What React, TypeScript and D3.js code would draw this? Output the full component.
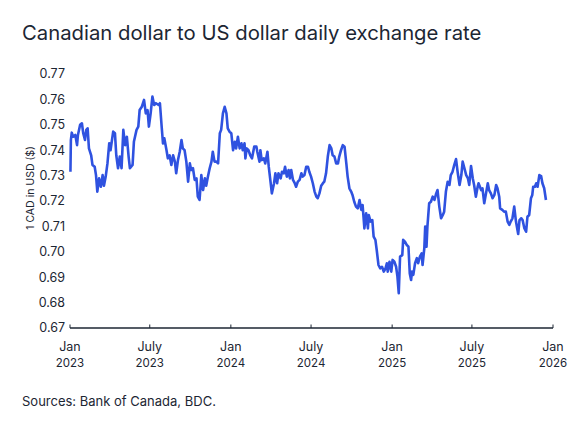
import * as d3 from 'd3';
import React from 'react';

// Bank of Canada daily CAD→USD rate
const dates = [
  '2023-01-02', '2023-01-03', '2023-01-05', '2023-01-08', '2023-01-13', '2023-01-17', '2023-01-19', '2023-01-24',
  '2023-01-28', '2023-01-31', '2023-02-04', '2023-02-07', '2023-02-10', '2023-02-13', '2023-02-18', '2023-02-21',
  '2023-02-26', '2023-03-01', '2023-03-04', '2023-03-08', '2023-03-12', '2023-03-16', '2023-03-19', '2023-03-23',
  '2023-03-27', '2023-03-31', '2023-04-03', '2023-04-09', '2023-04-13', '2023-04-16', '2023-04-20', '2023-04-24',
  '2023-04-28', '2023-05-02', '2023-05-06', '2023-05-10', '2023-05-14', '2023-05-17', '2023-05-23', '2023-05-26',
  '2023-06-01', '2023-06-05', '2023-06-08', '2023-06-13', '2023-06-18', '2023-06-22', '2023-06-26', '2023-06-29',
  '2023-07-03', '2023-07-07', '2023-07-11', '2023-07-15', '2023-07-21', '2023-07-24', '2023-07-28', '2023-07-31',
  '2023-08-03', '2023-08-08', '2023-08-11', '2023-08-15', '2023-08-19', '2023-08-23', '2023-08-27', '2023-08-30',
  '2023-09-03', '2023-09-07', '2023-09-11', '2023-09-14', '2023-09-18', '2023-09-22', '2023-09-26', '2023-09-30',
  '2023-10-03', '2023-10-07', '2023-10-11', '2023-10-15', '2023-10-18', '2023-10-22', '2023-10-26', '2023-10-30',
  '2023-11-03', '2023-11-06', '2023-11-10', '2023-11-14', '2023-11-18', '2023-11-21', '2023-11-25', '2023-11-29',
  '2023-12-03', '2023-12-07', '2023-12-10', '2023-12-14', '2023-12-18', '2023-12-22', '2023-12-25', '2023-12-29',
  '2024-01-02', '2024-01-06', '2024-01-10', '2024-01-13', '2024-01-17', '2024-01-21', '2024-01-25', '2024-01-28',
  '2024-02-01', '2024-02-03', '2024-02-06', '2024-02-10', '2024-02-14', '2024-02-18', '2024-02-23', '2024-02-28',
  '2024-03-01', '2024-03-06', '2024-03-08', '2024-03-11', '2024-03-16', '2024-03-19', '2024-03-24', '2024-03-27',
  '2024-03-31', '2024-04-03', '2024-04-08', '2024-04-11', '2024-04-15', '2024-04-18', '2024-04-23', '2024-04-26',
  '2024-04-30', '2024-05-03', '2024-05-07', '2024-05-11', '2024-05-14', '2024-05-17', '2024-05-21', '2024-05-25',
  '2024-05-28', '2024-06-01', '2024-06-05', '2024-06-09', '2024-06-12', '2024-06-16', '2024-06-20', '2024-06-24',
  '2024-06-27', '2024-07-01', '2024-07-05', '2024-07-09', '2024-07-13', '2024-07-16', '2024-07-20', '2024-07-24',
  '2024-07-28', '2024-07-31', '2024-08-04', '2024-08-08', '2024-08-12', '2024-08-16', '2024-08-19', '2024-08-23',
  '2024-08-27', '2024-08-31', '2024-09-03', '2024-09-07', '2024-09-11', '2024-09-15', '2024-09-19', '2024-09-22',
  '2024-09-26', '2024-09-30', '2024-10-03', '2024-10-07', '2024-10-11', '2024-10-15', '2024-10-19', '2024-10-23',
  '2024-10-26', '2024-10-30', '2024-11-03', '2024-11-07', '2024-11-09', '2024-11-13', '2024-11-17', '2024-11-20',
  '2024-11-24', '2024-11-27', '2024-12-01', '2024-12-05', '2024-12-09', '2024-12-13', '2024-12-17', '2024-12-20',
  '2024-12-22', '2024-12-26', '2024-12-30', '2025-01-02', '2025-01-06', '2025-01-10', '2025-01-13', '2025-01-16',
  '2025-01-19', '2025-01-24', '2025-01-26', '2025-01-30', '2025-02-03', '2025-02-07', '2025-02-10', '2025-02-13',
  '2025-02-15', '2025-02-18', '2025-02-22', '2025-02-26', '2025-03-01', '2025-03-05', '2025-03-09', '2025-03-11',
  '2025-03-15', '2025-03-17', '2025-03-20', '2025-03-22', '2025-03-26', '2025-03-30', '2025-04-03', '2025-04-07',
  '2025-04-11', '2025-04-14', '2025-04-18', '2025-04-22', '2025-04-26', '2025-04-29', '2025-05-03', '2025-05-07',
  '2025-05-11', '2025-05-14', '2025-05-18', '2025-05-22', '2025-05-26', '2025-05-30', '2025-06-03', '2025-06-07',
  '2025-06-10', '2025-06-14', '2025-06-18', '2025-06-22', '2025-06-25', '2025-06-29', '2025-07-03', '2025-07-06',
  '2025-07-10', '2025-07-14', '2025-07-16', '2025-07-22', '2025-07-25', '2025-07-29', '2025-08-02', '2025-08-06',
  '2025-08-09', '2025-08-13', '2025-08-17', '2025-08-21', '2025-08-25', '2025-08-28', '2025-09-01', '2025-09-03',
  '2025-09-08', '2025-09-12', '2025-09-16', '2025-09-20', '2025-09-24', '2025-09-27', '2025-10-01', '2025-10-05',
  '2025-10-09', '2025-10-14', '2025-10-17', '2025-10-21', '2025-10-24', '2025-10-28', '2025-11-01', '2025-11-04',
  '2025-11-08', '2025-11-12', '2025-11-15', '2025-11-17', '2025-11-21', '2025-11-24', '2025-11-27', '2025-12-01',
  '2025-12-05', '2025-12-08', '2025-12-12', '2025-12-16',
];

const rates = [
  0.7315, 0.744, 0.7469, 0.7453, 0.746, 0.742, 0.746, 0.750,
  0.7506, 0.7467, 0.744, 0.748, 0.7486, 0.7407, 0.738, 0.7342,
  0.7335, 0.7302, 0.7237, 0.7289, 0.7256, 0.7302, 0.726, 0.7296,
  0.7348, 0.7427, 0.740, 0.7473, 0.7467, 0.738, 0.7329, 0.7375,
  0.7329, 0.748, 0.742, 0.7453, 0.7375, 0.7329, 0.7342, 0.7433,
  0.748, 0.7493, 0.7558, 0.7571, 0.7598, 0.7545, 0.7558, 0.7493,
  0.7545, 0.7611, 0.7578, 0.7585, 0.7578, 0.7585, 0.7493, 0.7427,
  0.7447, 0.740, 0.7368, 0.738, 0.7342, 0.738, 0.7355, 0.7309,
  0.7361, 0.7394, 0.744, 0.7407, 0.740, 0.7355, 0.7276, 0.7348,
  0.7322, 0.7329, 0.7283, 0.7289, 0.7217, 0.7204, 0.7302, 0.7243,
  0.7289, 0.726, 0.7296, 0.7329, 0.7355, 0.7394, 0.7355, 0.7355,
  0.7348, 0.7467, 0.748, 0.7545, 0.7571, 0.7545, 0.7486, 0.7473,
  0.7467, 0.740, 0.7433, 0.7407, 0.7453, 0.7407, 0.7427, 0.740,
  0.7427, 0.7368, 0.7407, 0.740, 0.738, 0.7368, 0.7414, 0.7414,
  0.7394, 0.7355, 0.740, 0.7361, 0.7368, 0.7348, 0.7394, 0.7335,
  0.7276, 0.723, 0.727, 0.7309, 0.727, 0.7309, 0.7289, 0.7315,
  0.7309, 0.7335, 0.7296, 0.7322, 0.7289, 0.7322, 0.7283, 0.727,
  0.7256, 0.7276, 0.7283, 0.7309, 0.7296, 0.7302, 0.7335, 0.7335,
  0.7315, 0.7296, 0.727, 0.7237, 0.7217, 0.7211, 0.723, 0.726,
  0.727, 0.7276, 0.7309, 0.7375, 0.742, 0.7407, 0.738, 0.7375,
  0.7348, 0.7348, 0.7375, 0.740, 0.742, 0.7414, 0.7348, 0.7296,
  0.725, 0.7237, 0.7224, 0.7197, 0.7178, 0.7171, 0.7204, 0.7165,
  0.7184, 0.7092, 0.7152, 0.7092, 0.7145, 0.7119, 0.7125, 0.706,
  0.7047, 0.7007, 0.6948, 0.6935, 0.6941, 0.6922, 0.6935, 0.6955,
  0.6922, 0.6961, 0.6922, 0.6968, 0.6961, 0.6941, 0.6902, 0.6837,
  0.6981, 0.6987, 0.7047, 0.704, 0.7027, 0.702, 0.6915, 0.6889,
  0.6922, 0.6909, 0.6955, 0.6975, 0.6955, 0.6981, 0.6994, 0.6948,
  0.7014, 0.7099, 0.702, 0.7099, 0.7191, 0.7197, 0.7217, 0.7204,
  0.723, 0.7243, 0.7178, 0.7132, 0.7145, 0.7158, 0.7237, 0.7276,
  0.7263, 0.7302, 0.7315, 0.7342, 0.7365, 0.7309, 0.7263, 0.7302,
  0.7355, 0.7329, 0.7302, 0.7289, 0.7263, 0.7338, 0.7289, 0.7263,
  0.7217, 0.7256, 0.727, 0.7243, 0.725, 0.7191, 0.723, 0.727,
  0.7243, 0.723, 0.7211, 0.7224, 0.7263, 0.725, 0.7217, 0.7171,
  0.7165, 0.7158, 0.7158, 0.7119, 0.7106, 0.7119, 0.7132, 0.7178,
  0.7119, 0.707, 0.7125, 0.7132, 0.7125, 0.7093, 0.7079, 0.7138,
  0.7145, 0.7211, 0.7224, 0.7256, 0.7256, 0.727, 0.7256, 0.7302,
  0.7298, 0.727, 0.725, 0.7204,
];

const yTicks = [0.67, 0.68, 0.69, 0.70, 0.71, 0.72, 0.73, 0.74, 0.75, 0.76, 0.77];
const xTickDates = ['2023-01-01', '2023-07-01', '2024-01-01', '2024-07-01', '2025-01-01', '2025-07-01', '2026-01-01'];
const xTickMonths = ['Jan', 'July', 'Jan', 'July', 'Jan', 'July', 'Jan'];
const xTickYears = ['2023', '2023', '2024', '2024', '2025', '2025', '2026'];

const width = 575;
const height = 431;
const left = 70;
const right = 553;
const top = 74;
const bottom = 328;

const font = 'Inter, "Noto Sans", sans-serif';
const ink = '#1c2633';

export default function App() {
  const parse = d3.timeParse('%Y-%m-%d');
  const points = dates.map((d, i) => ({ date: parse(d) as Date, value: rates[i] }));

  const x = d3
    .scaleTime()
    .domain([parse('2023-01-01') as Date, parse('2026-01-01') as Date])
    .range([left, right]);
  const y = d3.scaleLinear().domain([0.67, 0.77]).range([bottom, top]);

  const line = d3
    .line<{ date: Date; value: number }>()
    .x((d) => x(d.date))
    .y((d) => y(d.value));

  return (
    <div style={{ position: 'absolute', left: 0, top: 0 }}>
      <svg width={width} height={height} style={{ display: 'block', background: '#fff' }}>
        <text x={22} y={40} fontFamily={font} fontSize={20.3} fill={ink}>
          Canadian dollar to US dollar daily exchange rate
        </text>

        {/* y axis labels */}
        {yTicks.map((t) => (
          <text key={t} x={65} y={y(t)} dy="0.35em" textAnchor="end" fontFamily={font} fontSize={12.5} fill={ink}>
            {t.toFixed(2)}
          </text>
        ))}
        <text
          transform={`translate(30,${(top + bottom) / 2 - 13}) rotate(-90)`}
          textAnchor="middle"
          dy="0.35em"
          fontFamily={font}
          fontSize={10.5}
          fill={ink}
        >
          1 CAD in USD ($)
        </text>

        <path d={line(points) ?? ''} fill="none" stroke="#2f52e0" strokeWidth={2.6} strokeLinejoin="round" />

        {/* x axis */}
        <line x1={left} x2={right} y1={bottom} y2={bottom} stroke={ink} strokeWidth={1.6} />
        {xTickDates.map((d, i) => {
          const px = x(parse(d) as Date);
          return (
            <g key={d}>
              <line x1={px} x2={px} y1={bottom} y2={bottom - 3.5} stroke={ink} strokeWidth={1} />
              <text x={px} y={351} textAnchor="middle" fontFamily={font} fontSize={12.5} fill={ink}>
                {xTickMonths[i]}
              </text>
              <text x={px} y={367} textAnchor="middle" fontFamily={font} fontSize={11.5} fill={ink}>
                {xTickYears[i]}
              </text>
            </g>
          );
        })}

        <text x={22} y={406} fontFamily={font} fontSize={13} fill={ink}>
          Sources: Bank of Canada, BDC.
        </text>
      </svg>
    </div>
  );
}
